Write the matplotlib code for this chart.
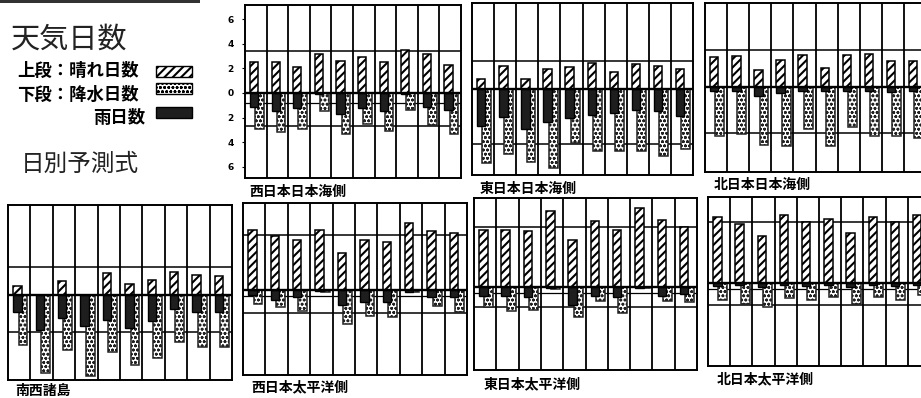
import matplotlib
matplotlib.use('Agg')
import matplotlib.pyplot as plt
from matplotlib.patches import Rectangle
import numpy as np

plt.rcParams['font.family'] = ['Noto Sans CJK JP', 'DejaVu Sans']
plt.rcParams['hatch.linewidth'] = 1.5

# ---------------- data ----------------
regions = ['西日本日本海側', '東日本日本海側', '北日本日本海側',
           '南西諸島', '西日本太平洋側', '東日本太平洋側', '北日本太平洋側']

# 晴れ日数 (upper, hatched)
sunny_w_sea = [2.5, 2.5, 2.1, 3.2, 2.6, 2.9, 2.55, 3.5, 3.2, 2.3]
sunny_e_sea = [0.8, 1.9, 0.85, 1.65, 1.75, 2.15, 1.35, 2.05, 1.85, 1.6]
sunny_n_sea = [2.4, 2.5, 1.4, 2.2, 2.6, 1.55, 2.6, 2.7, 2.15, 2.1]
sunny_okinawa = [0.75, 0, 1.1, 0, 1.8, 0.9, 1.2, 1.9, 1.6, 1.55]
sunny_w_pac = [4.9, 4.4, 4.05, 4.9, 3.0, 4.1, 3.9, 5.45, 4.8, 4.6]
sunny_e_pac = [4.6, 4.65, 4.55, 6.15, 3.85, 5.35, 4.65, 6.45, 5.45, 4.85]
sunny_n_pac = [5.35, 4.8, 3.85, 5.5, 4.95, 5.2, 4.05, 5.35, 5.0, 5.5]

# 雨日数 (lower, black)
rain_w_sea = [1.1, 1.5, 1.25, 0.1, 1.7, 1.25, 1.5, 0.1, 1.1, 1.4]
rain_e_sea = [3.0, 2.3, 3.25, 2.7, 2.35, 2.1, 1.95, 1.7, 1.8, 2.2]
rain_n_sea = [0.3, 0.3, 0.75, 0.5, 0.3, 0.3, 0.3, 0.3, 0.4, 0.3]
rain_okinawa = [1.35, 2.85, 1.9, 2.55, 2.0, 2.7, 2.15, 1.1, 1.35, 1.35]
rain_w_pac = [0.4, 0.8, 0.55, 0.1, 1.2, 0.95, 0.95, 0.2, 0.55, 0.55]
rain_e_pac = [0.7, 0.7, 0.8, 0.05, 1.5, 0.7, 0.8, 0.05, 0.75, 0.6]
rain_n_pac = [0.25, 0.2, 0.3, 0.2, 0.25, 0.2, 0.3, 0.2, 0.25, 0.2]

# 降水日数 (lower, dotted)
precip_w_sea = [2.9, 3.2, 2.9, 1.5, 3.3, 2.5, 3.05, 1.4, 2.6, 3.3]
precip_e_sea = [6.0, 5.3, 5.95, 6.4, 4.4, 5.05, 5.05, 5.05, 5.45, 4.9]
precip_n_sea = [4.0, 3.85, 4.75, 4.8, 3.45, 4.8, 3.25, 4.0, 3.95, 4.15]
precip_okinawa = [4.05, 6.35, 4.45, 6.6, 4.6, 5.7, 5.15, 3.8, 4.2, 4.2]
precip_w_pac = [1.1, 1.35, 1.7, 0.2, 2.75, 2.1, 2.2, 0.2, 1.3, 1.75]
precip_e_pac = [1.6, 1.95, 1.9, 0.2, 2.45, 1.1, 2.1, 0.1, 1.1, 1.2]
precip_n_pac = [1.4, 1.7, 1.95, 1.25, 1.35, 1.15, 1.7, 1.15, 1.4, 1.0]

# normal (reference) lines
normal_sunny = [3.4, 2.3, 3.0, 2.3, 4.45, 4.9, 4.95]
normal_precip = [2.7, 4.5, 3.7, 3.0, 1.85, 1.6, 1.8]
normal_rain = [0.8, None, None, None, 0.45, 0.5, 0.45]

ytick_values = [-6, -4, -2, 0, 2, 4, 6]
ytick_labels = ['6', '4', '2', '0', '2', '4', '6']

sunny_all = [sunny_w_sea, sunny_e_sea, sunny_n_sea, sunny_okinawa, sunny_w_pac, sunny_e_pac, sunny_n_pac]
rain_all = [rain_w_sea, rain_e_sea, rain_n_sea, rain_okinawa, rain_w_pac, rain_e_pac, rain_n_pac]
precip_all = [precip_w_sea, precip_e_sea, precip_n_sea, precip_okinawa, precip_w_pac, precip_e_pac, precip_n_pac]

# ---------------- layout (pixels) ----------------
W, H = 921, 398
PXU = 12.3
DOT_LW = 0.8
# left, right, top, bottom, zero, title_x, title_y
layout = [
    (245, 461, 5, 178, 93, 249, 192),
    (472, 693, 3, 175, 89, 480, 189),
    (705, 926, 3, 172, 87, 714, 185),
    (8, 232, 205, 380, 295, 15, 391),
    (243, 467, 203, 375, 290, 251, 387),
    (474, 697, 198, 370, 287, 484, 384),
    (708, 930, 197, 366, 283, 717, 379),
]


def thin_hatch(patches):
    for ptc in patches:
        if hasattr(ptc, 'set_hatch_linewidth'):
            ptc.set_hatch_linewidth(DOT_LW)


fig = plt.figure(figsize=(W / 100, H / 100), dpi=100)

for k, name in enumerate(regions):
    l, r, t, b, z, tx, ty = layout[k]
    ax = fig.add_axes([l / W, 1 - b / H, (r - l) / W, (b - t) / H])
    x = np.arange(10)
    s = np.array(sunny_all[k])
    rn = np.array(rain_all[k])
    p = np.array(precip_all[k])
    ax.bar(x - 0.08, s, width=0.38, facecolor='white', edgecolor='black',
           hatch='////', linewidth=1.1, zorder=3)
    with plt.rc_context({'hatch.linewidth': DOT_LW}):
        bc = ax.bar(x + 0.17, -p, width=0.40, facecolor='white', edgecolor='#222222',
                    hatch='oooo', linewidth=1.1, zorder=3)
    thin_hatch(bc.patches)
    ax.bar(x - 0.08, -rn, width=0.38, facecolor='#1e1e1e', edgecolor='black',
           linewidth=1.0, zorder=4)
    for i in range(9):
        ax.axvline(i + 0.5, color='black', linewidth=1.3, zorder=1)
    ax.axhline(0, color='black', linewidth=1.7, zorder=5)
    ax.axhline(normal_sunny[k], color='black', linewidth=1.1, zorder=2)
    ax.axhline(-normal_precip[k], color='black', linewidth=1.1, zorder=2)
    if normal_rain[k] is not None:
        ax.axhline(-normal_rain[k], color='black', linewidth=0.9, zorder=2)
    ax.set_xlim(-0.5, 9.5)
    ax.set_ylim(-(b - z) / PXU, (z - t) / PXU)
    ax.set_xticks([])
    for sp in ax.spines.values():
        sp.set_linewidth(1.4)
    if k == 0:
        ax.set_yticks(ytick_values)
        ax.set_yticklabels(ytick_labels, fontsize=6.5, fontweight='bold',
                           family='DejaVu Sans')
        ax.tick_params(axis='y', length=2, width=0.8, pad=6)
    else:
        ax.set_yticks([])
    fig.text(tx / W, 1 - ty / H, name, fontsize=10, fontweight='bold',
             ha='left', va='center')

# ---------------- legend / titles ----------------
fig.text(11 / W, 1 - 40 / H, '天気日数', fontsize=21, ha='left', va='center',
         color='#222222')
fig.text(17 / W, 1 - 71 / H, '上段：晴れ日数', fontsize=12.5, fontweight='bold',
         ha='left', va='center')
fig.text(17 / W, 1 - 95 / H, '下段：降水日数', fontsize=12.5, fontweight='bold',
         ha='left', va='center')
fig.text(145 / W, 1 - 118 / H, '雨日数', fontsize=12.5, fontweight='bold',
         ha='right', va='center')
fig.text(21 / W, 1 - 164 / H, '日別予測式', fontsize=17, ha='left', va='center',
         color='#222222')


def swatch(y0, y1, **kw):
    rect = Rectangle((156 / W, 1 - y1 / H), 36 / W, (y1 - y0) / H,
                     transform=fig.transFigure, edgecolor='black',
                     linewidth=1.0, **kw)
    fig.add_artist(rect)
    return rect


swatch(66, 77, facecolor='white', hatch='////')
with plt.rc_context({'hatch.linewidth': DOT_LW}):
    dot_sw = swatch(83, 94, facecolor='white', hatch='oooo')
thin_hatch([dot_sw])
swatch(107, 118, facecolor='#1e1e1e')

# scan border at top-left
fig.add_artist(Rectangle((0, 1 - 3 / H), 200 / W, 3 / H, transform=fig.transFigure,
                         facecolor='#333333', edgecolor='none'))

fig.savefig('out.png', dpi=100)
